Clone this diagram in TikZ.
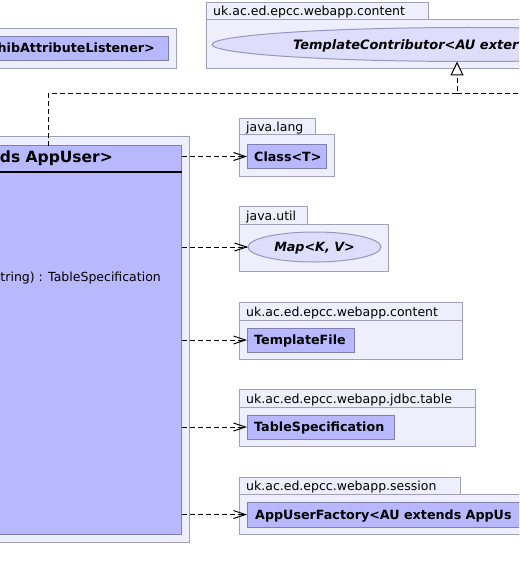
\documentclass[tikz,border=0pt]{standalone}
\usepackage{fontspec}
\setmainfont{DejaVu Sans}
\usetikzlibrary{arrows.meta,shapes.geometric}

\definecolor{pkgfill}{RGB}{238,238,252}
\definecolor{pkgline}{RGB}{160,160,184}
\definecolor{clsfill}{RGB}{184,184,255}
\definecolor{clsline}{RGB}{128,128,176}
\definecolor{ifcfill}{RGB}{222,222,252}
\definecolor{ifcline}{RGB}{150,150,192}

\tikzset{
  box/.style={anchor=north west, inner sep=0pt, outer sep=0pt},
  pkgtab/.style={box, draw=pkgline, fill=pkgfill, line width=1pt},
  pkgbody/.style={box, draw=pkgline, fill=pkgfill, line width=1pt},
  classbox/.style={box, draw=clsline, fill=clsfill, line width=1pt},
  ifc/.style={ellipse, draw=ifcline, fill=ifcfill, line width=1pt, inner sep=0pt, outer sep=0pt},
  pkglabel/.style={anchor=base west, inner sep=0pt, font=\fontsize{12.5pt}{14pt}\selectfont},
  clslabel/.style={anchor=base west, inner sep=0pt, font=\fontsize{12.7pt}{14pt}\selectfont\bfseries},
  ifclabel/.style={anchor=base west, inner sep=0pt, font=\fontsize{12.7pt}{14pt}\selectfont\bfseries\itshape},
  wideifclabel/.style={ifclabel, font=\fontsize{12.95pt}{14pt}\selectfont\bfseries\itshape},
  headlabel/.style={anchor=base east, inner sep=0pt, font=\fontsize{15.5pt}{18pt}\selectfont\bfseries},
  memberlabel/.style={anchor=base east, inner sep=0pt, font=\fontsize{12.5pt}{14pt}\selectfont},
  dependency/.style={line width=1pt, dash pattern=on 5pt off 3pt, -{Straight Barb[length=12pt,width=8pt]}},
  realization/.style={line width=1pt, dash pattern=on 5pt off 3pt, -{Triangle[length=14pt,width=13pt,fill=white]}},
  realizationline/.style={line width=1pt, dash pattern=on 5pt off 3pt},
}

\begin{document}
\begin{tikzpicture}[x=1pt,y=-1pt]
\useasboundingbox (0,0) rectangle (519,580);
\clip (0,0) rectangle (519,580);

% package holding the listener class (top left)
\node[pkgbody, minimum width=200pt, minimum height=40pt] (shibpkg) at (-24,29) {};
\node[classbox, minimum width=192pt, minimum height=24pt] (shibcls) at (-24,37) {};
\node[clslabel, anchor=base east] (shibname) at (155,53) {hibAttributeListener>};

% uk.ac.ed.epcc.webapp.content with TemplateContributor
\node[pkgtab, minimum width=222pt, minimum height=17pt] (conttab) at (206,3) {};
\node[pkgbody, minimum width=340pt, minimum height=49pt] (contpkg) at (206,20) {};
\node[pkglabel] (contlabel) at (213,16) {uk.ac.ed.epcc.webapp.content};
\node[ifc, minimum width=516pt, minimum height=34pt] (tcontrib) at (470,44.5) {};
\node[wideifclabel] (tcontribname) at (293,49.5) {TemplateContributor<AU exter};

% the main package and class
\node[pkgbody, minimum width=213pt, minimum height=405pt] (mainpkg) at (-24,137) {};
\node[classbox, minimum width=205.5pt, minimum height=388pt] (maincls) at (-24,146) {};
\coordinate (sepy) at (0,172);
\draw[line width=2pt] (maincls.west |- sepy) -- (maincls.east |- sepy);
\node[headlabel] (mainname) at (113,163) {ds AppUser>};
\node[memberlabel] (mainop) at (161,281) {String) : TableSpecification};

% java.lang
\node[pkgtab, minimum width=76pt, minimum height=16pt] (langtab) at (239,119) {};
\node[pkgbody, minimum width=95pt, minimum height=41pt] (langpkg) at (239,135) {};
\node[pkglabel] (langlabel) at (246,131.5) {java.lang};
\node[classbox, minimum width=79pt, minimum height=23pt] (classT) at (247,145) {};
\node[clslabel] (classTname) at (254,161) {Class<T>};

% java.util
\node[pkgtab, minimum width=68pt, minimum height=18pt] (utiltab) at (239,206) {};
\node[pkgbody, minimum width=149pt, minimum height=47pt] (utilpkg) at (239,224) {};
\node[pkglabel] (utillabel) at (246,220.5) {java.util};
\node[ifc, minimum width=133pt, minimum height=30pt] (mapKV) at (314.5,247) {};
\node[ifclabel, anchor=base] (mapKVname) at (314.5,251.5) {Map<K, V>};

% uk.ac.ed.epcc.webapp.content with TemplateFile
\node[pkgtab, minimum width=223pt, minimum height=18pt] (filetab) at (239,302) {};
\node[pkgbody, minimum width=223pt, minimum height=39pt] (filepkg) at (239,320) {};
\node[pkglabel] (filelabel) at (246,316.5) {uk.ac.ed.epcc.webapp.content};
\node[classbox, minimum width=107pt, minimum height=24pt] (tfile) at (247,328) {};
\node[clslabel] (tfilename) at (254,344.5) {TemplateFile};

% uk.ac.ed.epcc.webapp.jdbc.table
\node[pkgtab, minimum width=236pt, minimum height=18pt] (tabletab) at (239,389) {};
\node[pkgbody, minimum width=236pt, minimum height=39pt] (tablepkg) at (239,407) {};
\node[pkglabel] (tablelabel) at (246,403.5) {uk.ac.ed.epcc.webapp.jdbc.table};
\node[classbox, minimum width=147pt, minimum height=24pt] (tspec) at (247,415) {};
\node[clslabel] (tspecname) at (254,431.5) {TableSpecification};

% uk.ac.ed.epcc.webapp.session
\node[pkgtab, minimum width=221pt, minimum height=17pt] (sesstab) at (239,477) {};
\node[pkgbody, minimum width=330pt, minimum height=40pt] (sesspkg) at (239,494) {};
\node[pkglabel] (sesslabel) at (246,490.5) {uk.ac.ed.epcc.webapp.session};
\node[classbox, minimum width=320pt, minimum height=25pt] (aufact) at (247,502) {};
\node[clslabel] (aufactname) at (255,519) {AppUserFactory<AU extends AppUs};

% realization of TemplateContributor
\coordinate (elbowL) at (48,94);
\coordinate (elbowR) at (457,94);
\coordinate (farR) at (530,94);
\draw[realization] (maincls.north -| elbowL) -- (elbowL) -- (elbowR) -- (elbowR |- tcontrib.south);
\draw[realizationline] (elbowR) -- (farR);

% dependencies
\foreach \t in {classT, mapKV, tfile, tspec, aufact}
  \draw[dependency] (maincls.east |- \t.west) -- (\t.west);
\end{tikzpicture}
\end{document}
